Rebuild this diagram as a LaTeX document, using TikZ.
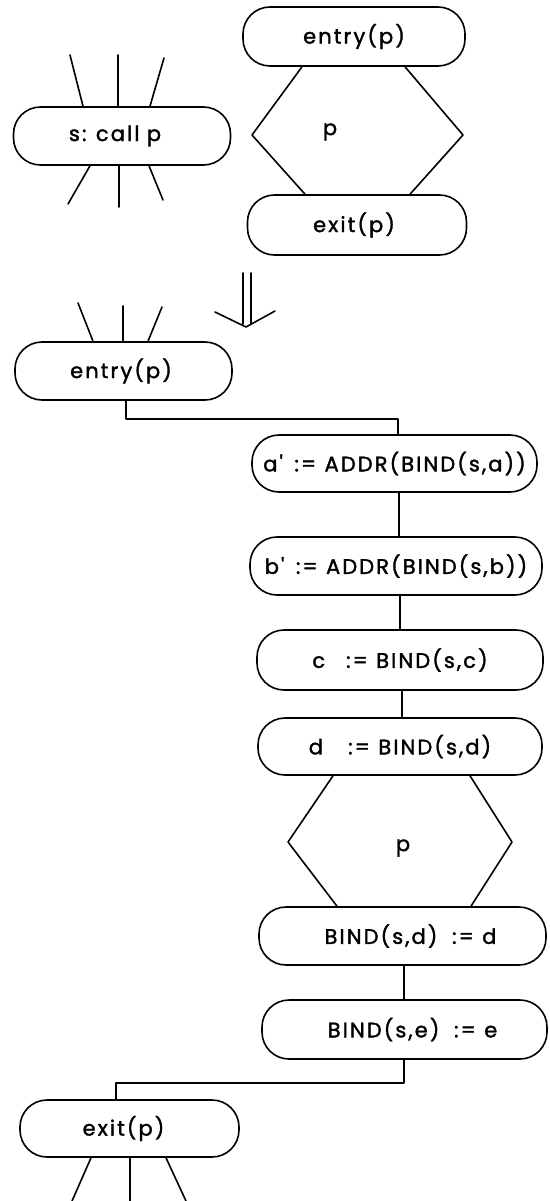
\documentclass[tikz,border=0pt]{standalone}
\usepackage{fontspec}
\setmainfont{Poppins}[LetterSpace=10, Ligatures=TeXOff, FakeBold=1.6]
\begin{document}
\begin{tikzpicture}[x=1pt, y=-1pt, line width=1.6pt, line cap=round, line join=round,
  box/.style={draw, rounded corners=27pt, inner sep=0pt, minimum height=58pt,
              font=\fontsize{21}{24}\selectfont},
  lbl/.style={inner sep=0pt, font=\fontsize{21}{24}\selectfont}]
\useasboundingbox (0,0) rectangle (549,1201);

% ---------- call site and procedure body ----------
\node[box, minimum width=217pt] (call) at (122,136) {\hspace*{-14pt}s:\hspace{0.45em}call\hspace{0.35em}p};
\coordinate (cu1) at (70,55);  \coordinate (cu2) at (118,55);  \coordinate (cu3) at (164,58);
\coordinate (cd1) at (68,204); \coordinate (cd2) at (119,207); \coordinate (cd3) at (163,200);
\draw (cu1) -- ([xshift=-39pt]call.north);
\draw (cu2) -- ([xshift=-4pt]call.north);
\draw (cu3) -- ([xshift=28pt]call.north);
\draw ([xshift=-32pt]call.south) -- (cd1);
\draw ([xshift=-3pt]call.south) -- (cd2);
\draw ([xshift=27pt]call.south) -- (cd3);

\node[box, minimum width=222pt, minimum height=59pt] (en1) at (354,36.5) {entry(p)};
\node[box, minimum width=219pt, minimum height=60pt] (ex1) at (357,225) {\hspace*{-6pt}exit(p)};
\coordinate (hl1) at (252,135); \coordinate (hr1) at (463,135);
\draw ([xshift=-52pt]en1.south) -- (hl1) -- ([xshift=-52pt]ex1.north);
\draw ([xshift=51pt]en1.south) -- (hr1) -- ([xshift=53pt]ex1.north);
\node[lbl] (p1) at (330,132) {p};

% ---------- transformation arrow ----------
\coordinate (dt) at (247,273);
\coordinate (dtip) at (246,327);
\draw ([xshift=-4pt]dt) -- ([xshift=-4pt]dt |- 0,324);
\draw ([xshift=4pt]dt) -- ([xshift=4pt]dt |- 0,324);
\draw (215,312) -- (dtip) -- (275,311);

% ---------- expanded call ----------
\node[box, minimum width=217pt] (en2) at (123.5,371) {\hspace*{-5pt}entry(p)};
\coordinate (eu1) at (78,303); \coordinate (eu2) at (123,306); \coordinate (eu3) at (162,307);
\draw (eu1) -- ([xshift=-30.5pt]en2.north);
\draw (eu2) -- ([xshift=-0.5pt]en2.north);
\draw (eu3) -- ([xshift=24.5pt]en2.north);

\node[box, minimum width=285pt, minimum height=57pt] (sa) at (394.5,463.5) {a'\hspace{0.55em}:=\hspace{0.4em}ADDR(BIND(s,a))};
\node[box, minimum width=292pt] (sb) at (396,566) {b'\hspace{0.55em}:=\hspace{0.4em}ADDR(BIND(s,b))};
\node[box, minimum width=286pt, minimum height=60pt] (sc) at (400,660) {c\hspace{1.0em}:=\hspace{0.4em}BIND(s,c)};
\node[box, minimum width=284pt, minimum height=57pt] (sd) at (400,746.5) {d\hspace{1.2em}:=\hspace{0.4em}BIND(s,d)};
\node[box, minimum width=287pt] (bd) at (402.5,936) {\hspace*{16pt}BIND(s,d)\hspace{0.7em}:=\hspace{0.4em}d};
\node[box, minimum width=285pt, minimum height=59pt] (be) at (404.5,1029.5) {\hspace*{16pt}BIND(s,e)\hspace{0.7em}:=\hspace{0.4em}e};
\node[box, minimum width=219pt, minimum height=57pt] (ex2) at (129.5,1128.5) {\hspace*{-12pt}exit(p)};

\draw ([xshift=2.5pt]en2.south) -- ++(0,18) -| ([xshift=3.5pt]sa.north);
\draw ([xshift=4.5pt]sa.south) -- ([xshift=4.5pt]sa.south |- sb.north);
\draw ([xshift=4pt]sb.south) -- ([xshift=4pt]sb.south |- sc.north);
\draw ([xshift=2pt]sc.south) -- ([xshift=2pt]sc.south |- sd.north);

\coordinate (hl2) at (288,842); \coordinate (hr2) at (512,842);
\draw ([xshift=-67pt]sd.south) -- (hl2) -- ([xshift=-65.5pt]bd.north);
\draw ([xshift=70pt]sd.south) -- (hr2) -- ([xshift=68.5pt]bd.north);
\node[lbl] (p2) at (403,848) {p};

\draw ([xshift=1.5pt]bd.south) -- ([xshift=1.5pt]bd.south |- be.north);
\draw ([xshift=-0.5pt]be.south) -- ++(0,23) -| ([xshift=-13.5pt]ex2.north);

\coordinate (xd1) at (72,1201); \coordinate (xd2) at (130,1201); \coordinate (xd3) at (186,1201);
\draw ([xshift=-38.5pt]ex2.south) -- (xd1);
\draw ([xshift=0.5pt]ex2.south) -- (xd2);
\draw ([xshift=36.5pt]ex2.south) -- (xd3);
\end{tikzpicture}
\end{document}
